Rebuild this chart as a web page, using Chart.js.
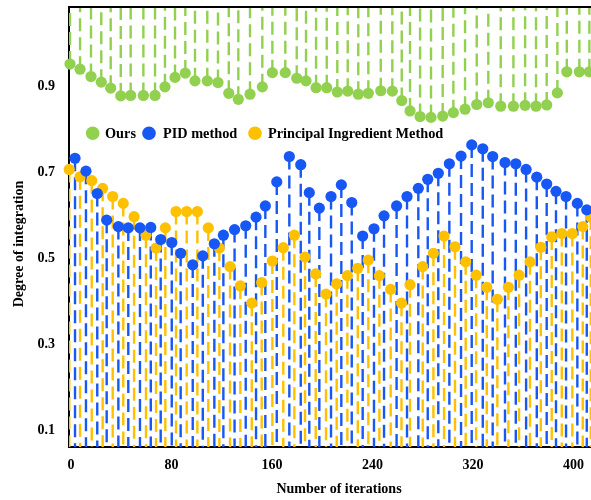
<!DOCTYPE html>
<html><head><meta charset="utf-8">
<script src="https://cdn.jsdelivr.net/npm/chart.js@4.4.0/dist/chart.umd.min.js"></script>
<style>
html,body{margin:0;padding:0;overflow:hidden;background:#fff;width:591px;height:500px;}
#wrap{position:relative;width:610px;height:500px;}
canvas{display:block;}
</style></head>
<body><div id="wrap"><canvas id="c" width="610" height="500"></canvas></div>
<script>
// ---- data ----
const SERIES_NAMES = ['Ours', 'PID method', 'Principal Ingredient Method'];
const X_TICKS = [0, 80, 160, 240, 320, 400];
const Y_TICKS = [0.1, 0.3, 0.5, 0.7, 0.9];
const X_TITLE = 'Number of iterations';
const Y_TITLE = 'Degree of integration';

const OURS_X = [-0.8, 7.2, 15.9, 24.1, 31.6, 39.6, 47.5, 57.6, 66.9, 74.8, 82.8, 91.0, 98.7, 108.5, 117.0, 125.6, 133.2, 142.5, 152.3, 160.3, 170.6, 179.7, 187.1, 195.1, 203.6, 212.0, 220.3, 228.7, 236.7, 246.6, 255.8, 263.3, 269.9, 277.9, 286.6, 295.9, 304.4, 313.7, 323.0, 332.2, 342.1, 352.2, 361.5, 370.2, 378.7, 387.2, 394.7, 404.7, 412.7];
const OURS_Y = [0.951, 0.939, 0.922, 0.909, 0.895, 0.877, 0.878, 0.878, 0.878, 0.898, 0.920, 0.930, 0.912, 0.912, 0.908, 0.883, 0.869, 0.881, 0.898, 0.931, 0.931, 0.918, 0.912, 0.896, 0.896, 0.886, 0.888, 0.881, 0.883, 0.889, 0.888, 0.866, 0.842, 0.829, 0.827, 0.830, 0.838, 0.846, 0.857, 0.861, 0.853, 0.853, 0.855, 0.853, 0.856, 0.884, 0.933, 0.933, 0.933];

const PID_X = [3.2, 11.9, 20.9, 28.4, 37.7, 45.6, 54.9, 63.5, 71.4, 80.2, 87.3, 96.9, 104.9, 114.1, 121.3, 130.2, 139.1, 147.3, 154.7, 163.8, 173.8, 182.9, 189.7, 197.7, 207.0, 215.2, 223.5, 232.2, 241.2, 249.2, 259.2, 267.5, 276.5, 284.0, 292.4, 301.2, 310.5, 319.0, 327.8, 335.7, 345.5, 354.1, 362.3, 370.8, 378.7, 386.1, 394.1, 403.1, 410.6];
const PID_Y = [0.732, 0.702, 0.650, 0.588, 0.573, 0.570, 0.570, 0.571, 0.543, 0.536, 0.511, 0.484, 0.505, 0.533, 0.553, 0.566, 0.575, 0.595, 0.621, 0.677, 0.736, 0.717, 0.652, 0.616, 0.643, 0.670, 0.629, 0.551, 0.568, 0.598, 0.621, 0.643, 0.662, 0.683, 0.697, 0.719, 0.737, 0.763, 0.754, 0.736, 0.722, 0.719, 0.706, 0.688, 0.672, 0.655, 0.643, 0.627, 0.612];

const PIM_X = [-1.4, 7.2, 16.5, 25.2, 33.2, 41.6, 50.2, 59.7, 67.7, 75.1, 83.6, 92.1, 100.6, 109.3, 118.1, 126.6, 134.8, 143.9, 151.8, 160.3, 169.0, 177.8, 186.3, 194.8, 203.0, 211.5, 220.0, 228.3, 236.7, 245.5, 254.5, 263.1, 269.9, 280.0, 288.5, 297.0, 305.7, 314.2, 322.5, 331.0, 339.4, 348.2, 356.7, 365.4, 374.0, 382.7, 390.7, 399.1, 407.4, 413.8];
const PIM_Y = [0.706, 0.689, 0.680, 0.662, 0.643, 0.627, 0.596, 0.553, 0.523, 0.570, 0.608, 0.608, 0.608, 0.570, 0.523, 0.480, 0.435, 0.395, 0.443, 0.493, 0.524, 0.553, 0.502, 0.463, 0.416, 0.440, 0.459, 0.476, 0.495, 0.459, 0.427, 0.395, 0.438, 0.480, 0.511, 0.551, 0.526, 0.491, 0.460, 0.432, 0.404, 0.432, 0.460, 0.491, 0.525, 0.549, 0.557, 0.557, 0.573, 0.595];

const Y_MIN = 0.0605, Y_MAX = 1.0837;
const X_MIN = -1.6, X_MAX = 428.3;

// ---- styles ----
const GREEN = '#92D050', BLUE = '#1757F3', GOLD = '#FFC000';
const FONT = '"Liberation Serif", "Times New Roman", serif';

function points(xs, ys) { return xs.map((x, i) => ({ x: x, y: ys[i] })); }
function stems(xs, ys, base) {
  const out = [];
  xs.forEach((x, i) => { out.push({ x: x, y: ys[i] }, { x: x, y: base }, { x: x, y: null }); });
  return out;
}
function pointSet(label, xs, ys, color) {
  return { label: label, data: points(xs, ys), showLine: false, pointRadius: 5.6, pointHoverRadius: 5.6,
    pointBackgroundColor: color, pointBorderWidth: 0, pointBorderColor: color, clip: false };
}
function stemSet(xs, ys, base, color) {
  return { label: '', data: stems(xs, ys, base), showLine: true, spanGaps: false, pointRadius: 0,
    pointHoverRadius: 0, borderColor: color, borderWidth: 2.4, borderDash: [13, 6], borderCapStyle: 'butt' };
}

const frame = {
  id: 'frame',
  afterDatasetsDraw(chart) {
    const { ctx, chartArea } = chart;
    ctx.save();
    ctx.strokeStyle = '#000'; ctx.lineWidth = 2;
    ctx.beginPath(); ctx.moveTo(chartArea.left - 1, chartArea.top); ctx.lineTo(chartArea.right, chartArea.top); ctx.stroke();
    // legend inside plot
    const items = [
      { color: GREEN, cx: 92.7, tx: 105 },
      { color: BLUE, cx: 149, tx: 163 },
      { color: GOLD, cx: 255, tx: 268 }
    ];
    ctx.font = 'bold 14.3px ' + FONT;
    ctx.textBaseline = 'alphabetic';
    ctx.textAlign = 'left';
    items.forEach((it, i) => {
      ctx.fillStyle = it.color;
      ctx.beginPath(); ctx.arc(it.cx, 133.3, 6.8, 0, Math.PI * 2); ctx.fill();
      ctx.fillStyle = '#000';
      ctx.fillText(SERIES_NAMES[i], it.tx, 137.8);
    });
    // y axis title
    ctx.translate(19, 244);
    ctx.rotate(-Math.PI / 2);
    ctx.font = 'bold 14px ' + FONT;
    ctx.textAlign = 'center';
    ctx.textBaseline = 'middle';
    ctx.fillText(Y_TITLE, 0, 0);
    ctx.restore();
  }
};

new Chart(document.getElementById('c'), {
  type: 'scatter',
  data: {
    datasets: [
      pointSet(SERIES_NAMES[1], PID_X, PID_Y, BLUE),
      pointSet(SERIES_NAMES[2], PIM_X, PIM_Y, GOLD),
      pointSet(SERIES_NAMES[0], OURS_X, OURS_Y, GREEN),
      stemSet(PID_X, PID_Y, Y_MIN, BLUE),
      stemSet(PIM_X, PIM_Y, Y_MIN, GOLD),
      stemSet(OURS_X, OURS_Y, Y_MAX, GREEN)
    ]
  },
  options: {
    responsive: false, animation: false, devicePixelRatio: 1,
    events: [],
    layout: { autoPadding: false, padding: { top: 7, right: 1, left: 0, bottom: 0 } },
    plugins: { legend: { display: false }, tooltip: { enabled: false } },
    scales: {
      x: {
        type: 'linear', min: X_MIN, max: X_MAX,
        afterBuildTicks(s) { s.ticks = X_TICKS.map(v => ({ value: v })); },
        afterFit(s) { s.height = 53; s.paddingLeft = 0; s.paddingRight = 0; },
        grid: { display: false, drawTicks: false },
        border: { display: true, color: '#000', width: 2 },
        ticks: { color: '#000', padding: 10, maxRotation: 0, font: { family: FONT, size: 14, weight: 'bold' },
          callback: v => String(v) },
        title: { display: true, text: X_TITLE, color: '#000', padding: { top: 0, bottom: 2 },
          font: { family: FONT, size: 14, weight: 'bold' } }
      },
      y: {
        type: 'linear', min: Y_MIN, max: Y_MAX,
        afterBuildTicks(s) { s.ticks = Y_TICKS.map(v => ({ value: v })); },
        afterFit(s) { s.width = 69; s.paddingTop = 0; s.paddingBottom = 0; },
        grid: { display: false, drawTicks: false },
        border: { display: true, color: '#000', width: 2 },
        ticks: { color: '#000', padding: 14, font: { family: FONT, size: 14, weight: 'bold' },
          callback: v => Number(v).toFixed(1) },
        title: { display: false }
      }
    }
  },
  plugins: [frame]
});
</script>
</body></html>
